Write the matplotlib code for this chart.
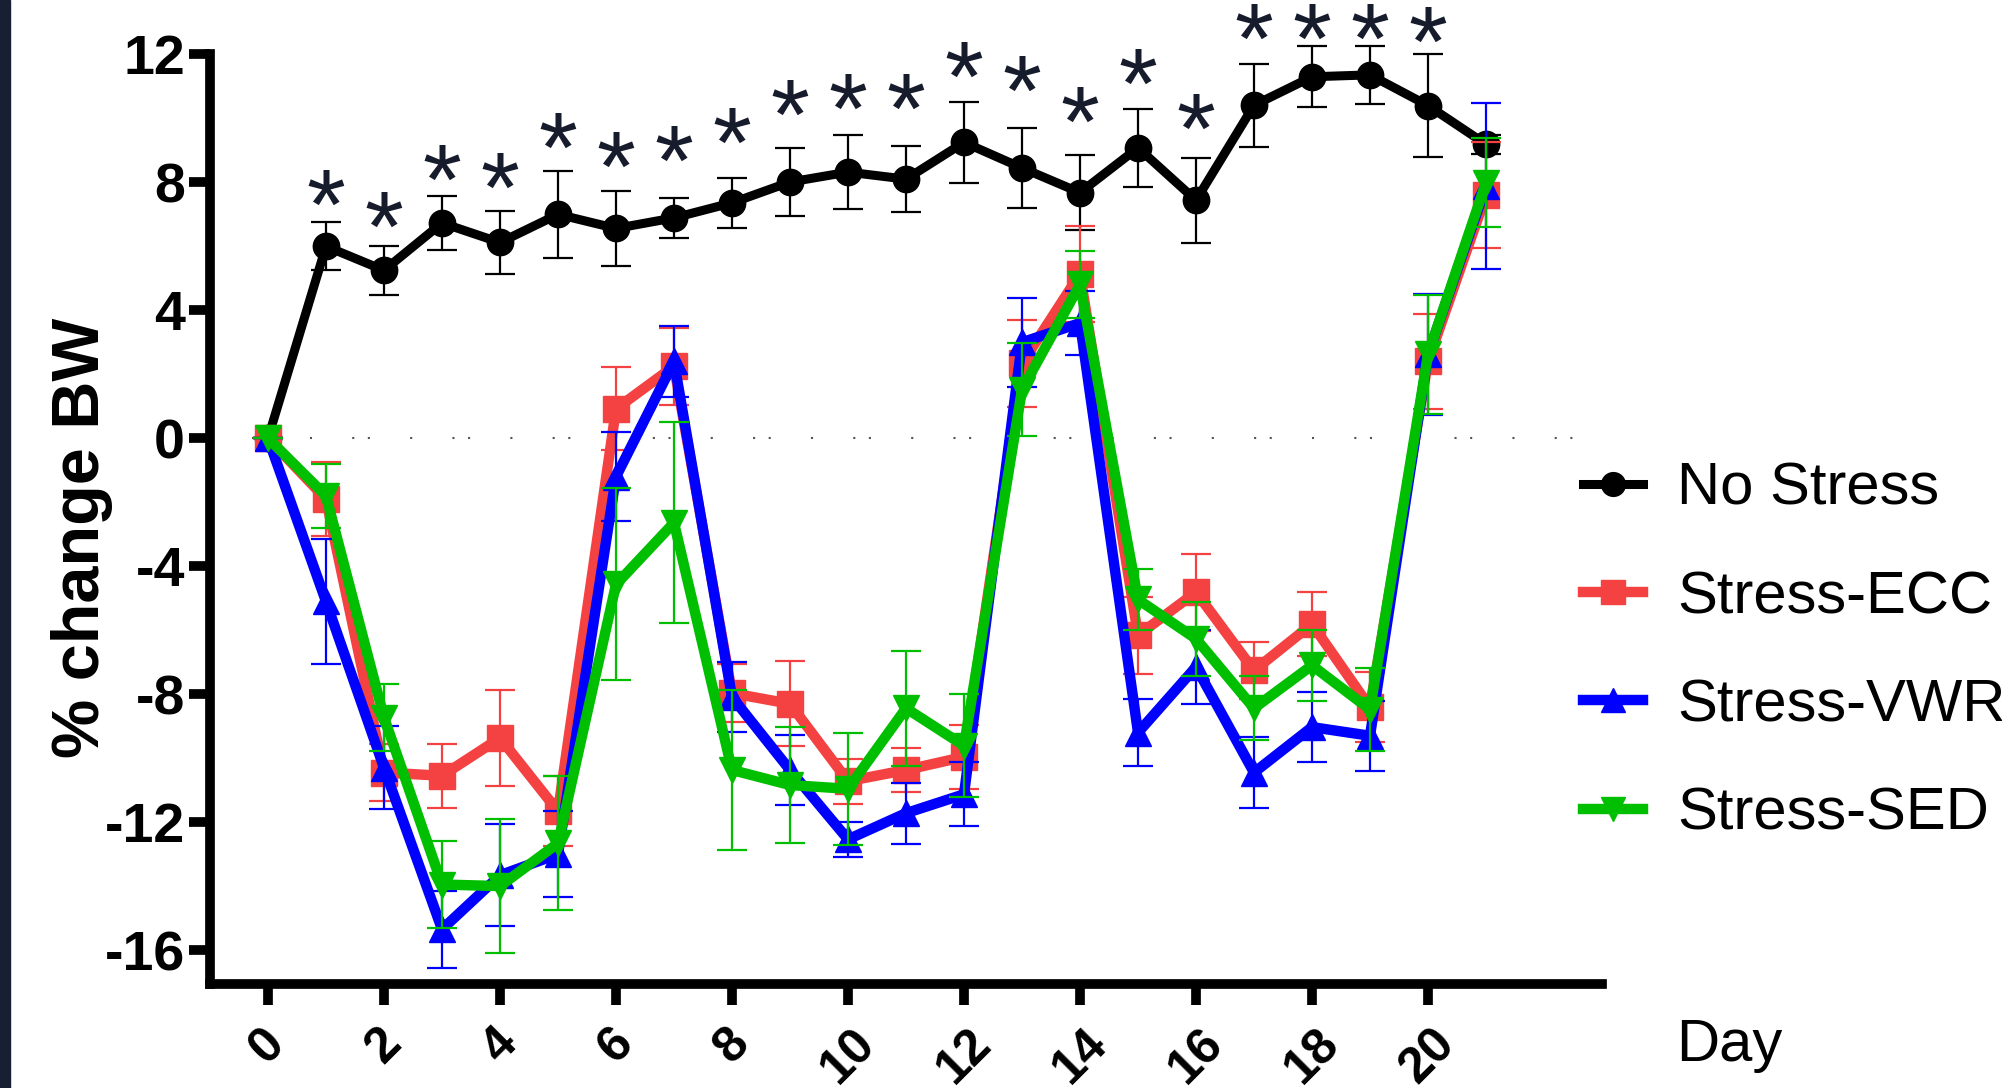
import matplotlib
matplotlib.use("Agg")
import matplotlib.pyplot as plt
from matplotlib.patches import Rectangle

plt.rcParams['font.family'] = ['Liberation Sans', 'DejaVu Sans']

days = list(range(22))
x_ticks = list(range(0, 21, 2))
y_ticks = [-16, -12, -8, -4, 0, 4, 8, 12]

no_stress = [0, 6.0, 5.25, 6.73, 6.12, 7.0, 6.56, 6.89, 7.36, 8.01, 8.32, 8.1,
             9.25, 8.45, 7.68, 9.08, 7.44, 10.41, 11.3, 11.36, 10.4, 9.19]
no_stress_err = [0, 0.75, 0.76, 0.83, 1.0, 1.37, 1.17, 0.63, 0.78, 1.07, 1.15, 1.04,
                 1.26, 1.26, 1.16, 1.22, 1.33, 1.29, 0.95, 0.9, 1.6, 0.3]

ecc = [0, -1.9, -10.45, -10.55, -9.37, -11.66, 0.92, 2.25, -7.97, -8.3, -10.72, -10.37,
       -9.96, 2.34, 5.14, -6.16, -4.81, -7.26, -5.81, -8.41, 2.4, 7.6]
ecc_err = [0, 1.15, 0.9, 1.0, 1.5, 1.1, 1.3, 1.2, 0.9, 1.33, 0.7, 0.7,
           1.0, 1.35, 1.5, 1.2, 1.2, 0.9, 1.0, 1.1, 1.5, 1.65]

vwr = [0, -5.1, -10.3, -15.35, -13.66, -13.0, -1.2, 2.4, -8.09, -10.37, -12.54, -11.72,
       -11.13, 3.0, 3.6, -9.2, -7.15, -10.45, -9.03, -9.3, 2.62, 7.88]
vwr_err = [0, 1.95, 1.3, 1.2, 1.6, 1.35, 1.4, 1.1, 1.1, 1.1, 0.55, 0.95,
           1.0, 1.4, 1.0, 1.05, 1.15, 1.1, 1.1, 1.1, 1.9, 2.6]

sed = [0, -1.8, -8.73, -13.95, -14.0, -12.66, -4.57, -2.64, -10.37, -10.84, -10.96, -8.44,
       -9.61, 1.52, 4.81, -5.04, -6.27, -8.44, -7.1, -8.48, 2.62, 7.99]
sed_err = [0, 1.0, 1.05, 1.35, 2.1, 2.1, 3.0, 3.15, 2.5, 1.8, 1.75, 1.8,
           1.6, 1.45, 1.05, 0.95, 1.15, 1.0, 1.1, 1.3, 1.85, 1.4]

# significance stars above the No Stress group
star_days = list(range(1, 21))
star_y = [7.82, 7.11, 8.59, 8.35, 9.58, 9.0, 9.19, 9.74, 10.62, 10.8, 10.8, 11.8,
          11.36, 10.4, 11.6, 10.2, 13.0, 13.0, 13.0, 12.9]

series = [
    ("No Stress", no_stress, no_stress_err, "black", "o", 6.5),
    ("Stress-ECC", ecc, ecc_err, "#f44242", "s", 7.5),
    ("Stress-VWR", vwr, vwr_err, "#0000ff", "^", 7.5),
    ("Stress-SED", sed, sed_err, "#00bf00", "v", 7.5),
]

fig = plt.figure(figsize=(20.02, 10.88), dpi=100)
fig.add_artist(Rectangle((0, 0), 10 / 2002, 1, transform=fig.transFigure,
                         color="#172033", zorder=0))
ax = fig.add_axes([0.1049, 0.0956, 0.6953, 0.8544])

# dotted zero line
ax.plot([-0.27, 22.65], [0, 0], color="#555555", lw=1.5,
        linestyle=(0, (1, 6.5, 1, 19.3, 1, 19.3)), zorder=1)

handles = []
for name, vals, errs, col, mk, lw in series:
    ax.errorbar(days, vals, yerr=errs, fmt="none", ecolor=col, elinewidth=1.6,
                capsize=10.5, capthick=1.6, clip_on=False)
    ln, = ax.plot(days, vals, color=col, lw=lw, marker=mk, markersize=19,
                  label=name, clip_on=False)
    handles.append(ln)

for d, s in zip(star_days, star_y):
    ax.annotate("*", (d, s), xytext=(0, -0.573 * 72 + 5), textcoords="offset points",
                ha="center", va="baseline", fontsize=72, color="#161c2c",
                annotation_clip=False)

ax.set_xlim(-1, 23)
ax.set_ylim(-17.06, 12)
ax.set_xticks(x_ticks)
ax.set_yticks(y_ticks)
ax.set_xticklabels([str(t) for t in x_ticks], rotation=45, ha="center",
                   fontsize=36, fontweight="bold")
ax.set_yticklabels([str(t) for t in y_ticks], fontsize=40, fontweight="bold")
for side in ["top", "right"]:
    ax.spines[side].set_visible(False)
for side in ["left", "bottom"]:
    ax.spines[side].set_linewidth(7)
ax.tick_params(axis="both", direction="out", length=15, width=7)
ax.tick_params(axis="y", pad=3)
ax.tick_params(axis="x", pad=11)

fig.text(0.041, 0.506, "% change BW", rotation=90, ha="center", va="center",
         fontsize=48, fontweight="bold")
fig.text(0.837, 0.025, "Day", ha="left", va="baseline", fontsize=43)

fig.legend(handles=handles, loc="center left", bbox_to_anchor=(0.7907, 0.401),
           frameon=False, fontsize=43, handlelength=1.0, handletextpad=0.58,
           labelspacing=0.89, borderpad=0, borderaxespad=0, markerscale=0.9)

fig.savefig("out.png", dpi=100)
